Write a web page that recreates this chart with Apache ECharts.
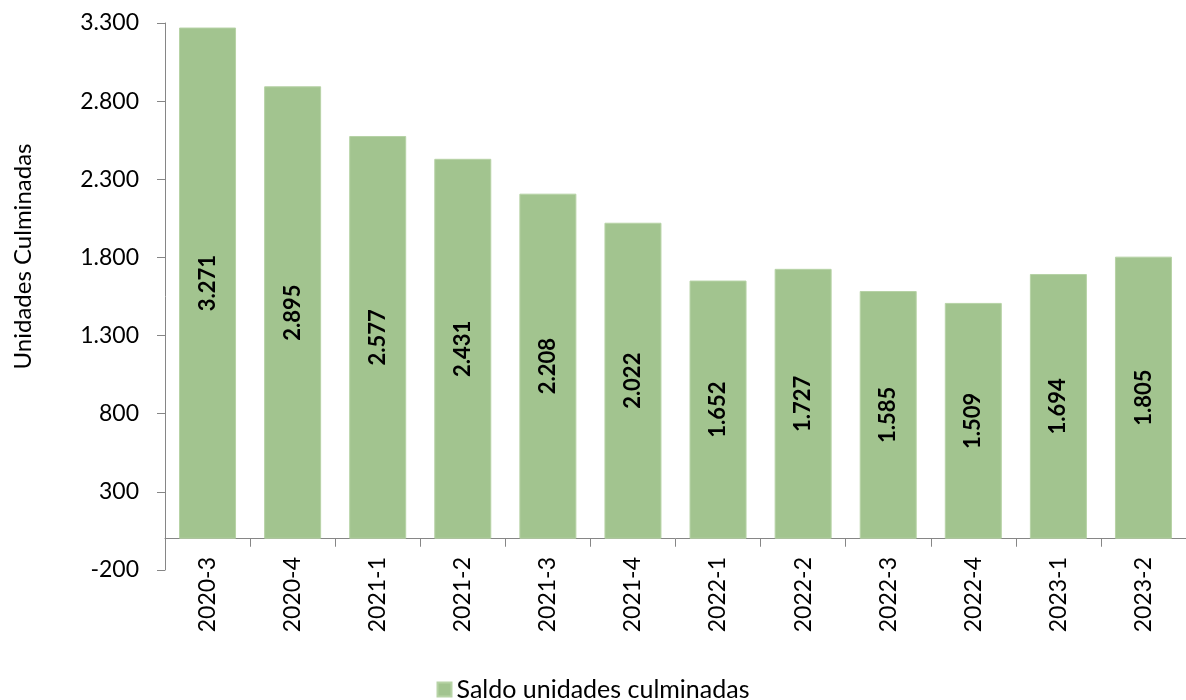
<!DOCTYPE html>
<html>
<head>
<meta charset="utf-8">
<script src="https://cdn.jsdelivr.net/npm/echarts@6/dist/echarts.min.js"></script>
<style>
  html, body { margin: 0; padding: 0; background: #fff; }
  #chart { width: 1186px; height: 700px; }
</style>
</head>
<body>
<div id="chart"></div>
<script>
const categories = ['2020-3', '2020-4', '2021-1', '2021-2', '2021-3', '2021-4',
  '2022-1', '2022-2', '2022-3', '2022-4', '2023-1', '2023-2']
const saldoValues = [3271, 2895, 2577, 2431, 2208, 2022, 1652, 1727, 1585, 1509, 1694, 1805]
const seriesName = 'Saldo unidades culminadas'
const yAxisName = 'Unidades Culminadas'

// separador de miles con punto
const fmt = v => String(v).replace(/\B(?=(\d{3})+(?!\d))/g, '.')

const chart = echarts.init(document.getElementById('chart'))
chart.setOption({
  animation: false,
  textStyle: { fontFamily: 'Lato' },
  grid: { left: 165, top: 23, width: 1032, height: 547 },
  legend: {
    data: [seriesName],
    top: 672,
    left: 'center',
    itemWidth: 14,
    itemHeight: 14,
    icon: 'rect',
    itemGap: 6,
    textStyle: { fontSize: 25, color: '#000', fontFamily: 'Lato' }
  },
  xAxis: {
    type: 'category',
    data: categories,
    axisLine: { onZero: true, lineStyle: { color: '#868686', width: 1 } },
    axisTick: { show: true, length: 8, lineStyle: { color: '#868686' } },
    axisLabel: { rotate: 90, margin: -13, fontSize: 23, color: '#000', fontFamily: 'Lato' }
  },
  yAxis: {
    type: 'value',
    min: -200,
    max: 3300,
    interval: 500,
    name: yAxisName,
    nameLocation: 'middle',
    nameGap: 130,
    nameTextStyle: { fontSize: 24, color: '#000', fontFamily: 'Lato', padding: [0, 0, 0, 80] },
    splitLine: { show: false },
    axisLine: { show: true, lineStyle: { color: '#868686', width: 1 } },
    axisTick: { show: true, length: 8, lineStyle: { color: '#868686' } },
    axisLabel: { margin: 26, fontSize: 23, color: '#000', fontFamily: 'Lato', formatter: fmt }
  },
  series: [{
    name: seriesName,
    type: 'bar',
    data: saldoValues,
    barWidth: 57,
    itemStyle: { color: '#a2c48f', borderColor: '#b7d3a6', borderWidth: 1 },
    label: {
      show: true,
      position: 'inside',
      rotate: 90,
      fontSize: 22,
      fontWeight: 'bold',
      color: '#000',
      fontFamily: 'Lato',
      formatter: p => fmt(p.value)
    }
  }]
})
</script>
</body>
</html>
